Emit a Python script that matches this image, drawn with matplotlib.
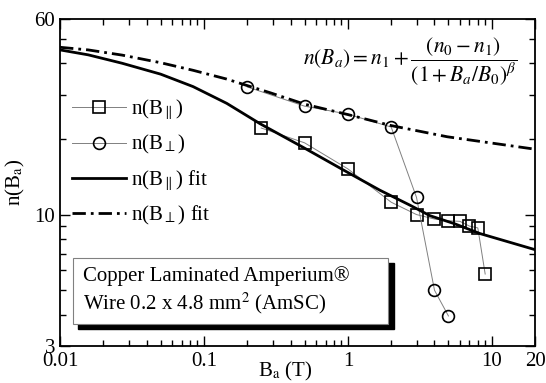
import matplotlib
matplotlib.use('Agg')
import matplotlib.pyplot as plt
from matplotlib.patches import Rectangle
from matplotlib.ticker import FixedLocator, FixedFormatter, NullFormatter

plt.rcParams['font.family'] = ['Liberation Serif', 'DejaVu Serif']
plt.rcParams['mathtext.fontset'] = 'stix'

# measured points
b_par = [0.25, 0.5, 1, 2, 3, 4, 5, 6, 7, 8, 9]
n_par = [22.1, 19.3, 15.2, 11.2, 10.0, 9.6, 9.45, 9.4, 9.0, 8.85, 5.8]
b_perp = [0.2, 0.5, 1, 2, 3, 4, 5]
n_perp = [32.2, 27.0, 25.1, 22.3, 11.7, 5.0, 3.95]

# fit curves
fit_par_b = [0.01, 0.0157, 0.027, 0.05, 0.084, 0.144, 0.245, 0.49, 0.98,
             1.67, 2.7, 3.72, 5.5, 8.3, 20]
fit_par_n = [45.2, 43.2, 40.0, 36.2, 32.3, 27.7, 23.0, 18.5, 14.8,
             12.5, 10.9, 9.9, 9.2, 8.4, 7.25]
fit_perp_b = [0.01, 0.0157, 0.027, 0.05, 0.084, 0.144, 0.2, 0.29, 0.5, 1, 2, 4.9, 20]
fit_perp_n = [46.3, 45.2, 43.1, 40.2, 37.5, 34.6, 32.6, 30.5, 27.5, 25.0, 22.6, 20.4, 18.2]

x_ticks = [0.01, 0.1, 1, 10, 20]
x_labels = ['0.01', '0.1', '1', '10', '20']
y_ticks = [3, 10, 60]
y_labels = ['3', '10', '60']

fig = plt.figure(figsize=(5.46, 3.83), dpi=100)
ax = fig.add_axes([0.110, 0.0966, 0.870, 0.8538])

l1, = ax.plot(b_par, n_par, color='gray', lw=0.7, marker='s', ms=8,
              mfc='none', mec='black', mew=1.2, zorder=2)
l2, = ax.plot(b_perp, n_perp, color='gray', lw=0.7, marker='o', ms=8.5,
              mfc='none', mec='black', mew=1.2, zorder=2)
l3, = ax.plot(fit_par_b, fit_par_n, color='black', lw=2, zorder=3)
l4, = ax.plot(fit_perp_b, fit_perp_n, color='black', lw=2,
              dashes=(4.8, 1.8, 1.0, 1.8), zorder=3)

ax.set_xscale('log')
ax.set_yscale('log')
ax.set_xlim(0.01, 20)
ax.set_ylim(3, 60)

ax.xaxis.set_major_locator(FixedLocator(x_ticks))
ax.xaxis.set_major_formatter(FixedFormatter(x_labels))
ax.yaxis.set_major_locator(FixedLocator(y_ticks))
ax.yaxis.set_major_formatter(FixedFormatter(y_labels))
ax.xaxis.set_minor_locator(FixedLocator([0.02, 0.03, 0.04, 0.05, 0.06, 0.07, 0.08, 0.09,
                                         0.2, 0.3, 0.4, 0.5, 0.6, 0.7, 0.8, 0.9,
                                         2, 3, 4, 5, 6, 7, 8, 9]))
ax.yaxis.set_minor_locator(FixedLocator([4, 5, 6, 7, 8, 9, 20, 30, 40, 50]))
ax.xaxis.set_minor_formatter(NullFormatter())
ax.yaxis.set_minor_formatter(NullFormatter())
ax.tick_params(which='both', direction='in', top=True, right=True, labelsize=15, width=1)
ax.tick_params(which='major', length=7)
ax.tick_params(which='minor', length=4)
ax.tick_params(axis='x', pad=4)
for s in ax.spines.values():
    s.set_linewidth(1.3)

ax.set_xlabel(r'B$_\mathrm{a}$ (T)', fontsize=15)
ax.xaxis.set_label_coords(0.474, -0.042)
ax.set_ylabel(r'n(B$_\mathrm{a}$)', fontsize=15)
ax.yaxis.set_label_coords(-0.07, 0.5)

ax.legend([l1, l2, l3, l4],
          [r'n(B$_{\parallel}$)', r'n(B$_{\perp}$)',
           r'n(B$_{\parallel}$) fit', r'n(B$_{\perp}$) fit'],
          loc='upper left', bbox_to_anchor=(-0.005, 0.806), frameon=False,
          fontsize=15, handlelength=2.6, handletextpad=0.2, labelspacing=0.55,
          borderaxespad=0.3)

ax.text(0.737, 0.872, r'$n(B_a)=n_1+\dfrac{(n_0-n_1)}{(1+B_a/B_0)^{\beta}}$',
        transform=ax.transAxes, ha='center', va='center', fontsize=15.5)

ax.add_patch(Rectangle((0.038, 0.052), 0.664, 0.202, transform=ax.transAxes,
                       facecolor='black', edgecolor='black', zorder=4))
ax.add_patch(Rectangle((0.027, 0.067), 0.664, 0.202, transform=ax.transAxes,
                       facecolor='white', edgecolor='gray', lw=0.8, zorder=5))
ax.text(0.048, 0.168, 'Copper Laminated Amperium®\nWire 0.2 x 4.8 mm$^2$ (AmSC)',
        transform=ax.transAxes, ha='left', va='center', fontsize=15,
        linespacing=1.25, zorder=6)

fig.savefig('out.png', dpi=100)
